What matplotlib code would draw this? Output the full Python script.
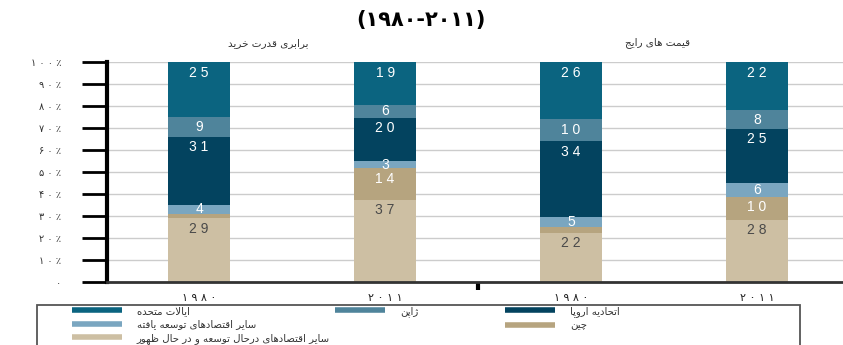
import matplotlib
matplotlib.use("Agg")
import matplotlib.pyplot as plt
from matplotlib.lines import Line2D
from matplotlib.patches import Rectangle

# bar values (% of world GDP), bottom to top: PPP 1980, PPP 2011, market 1980, market 2011
emerging = [29, 37.4, 22.4, 28.4]
china = [2, 14.4, 2.4, 10.4]
other_adv = [4, 3.2, 4.9, 6.2]
eu = [31, 19.6, 34.4, 24.6]
japan = [9, 6.0, 10.0, 8.4]
us = [25, 19.4, 25.9, 22.0]

year_labels = ["۱ ۹ ۸ ۰", "۲ ۰ ۱ ۱", "۱ ۹ ۸ ۰", "۲ ۰ ۱ ۱"]
ytick_labels = ["۰", "۱ ۰ ٪", "۲ ۰ ٪", "۳ ۰ ٪", "۴ ۰ ٪", "۵ ۰ ٪",
                "۶ ۰ ٪", "۷ ۰ ٪", "۸ ۰ ٪", "۹ ۰ ٪", "۱ ۰ ۰ ٪"]
series_names = ["سایر اقتصادهای درحال توسعه و در حال ظهور", "چین",
                "سایر اقتصادهای توسعه یافته", "اتحادیه اروپا", "ژاپن", "ایالات متحده"]
panel_titles = ["برابری قدرت خرید", "قیمت های رایج"]
period = "(۱۹۸۰-۲۰۱۱)"

colors = ["#cdbfa3", "#b6a47f", "#7aa6c0", "#03435f", "#4f849b", "#0b6480"]
text_colors = ["#4a4a4a", "white", "white", "white", "white", "white"]

# simple arabic shaping (matplotlib draws left to right, no joining)
FORMS = {
    "ا": ("\uFE8D", "\uFE8E", None, None),
    "ب": ("\uFE8F", "\uFE90", "\uFE91", "\uFE92"),
    "پ": ("\uFB56", "\uFB57", "\uFB58", "\uFB59"),
    "ت": ("\uFE95", "\uFE96", "\uFE97", "\uFE98"),
    "ج": ("\uFE9D", "\uFE9E", "\uFE9F", "\uFEA0"),
    "چ": ("\uFB7A", "\uFB7B", "\uFB7C", "\uFB7D"),
    "ح": ("\uFEA1", "\uFEA2", "\uFEA3", "\uFEA4"),
    "خ": ("\uFEA5", "\uFEA6", "\uFEA7", "\uFEA8"),
    "د": ("\uFEA9", "\uFEAA", None, None),
    "ر": ("\uFEAD", "\uFEAE", None, None),
    "ژ": ("\uFB8A", "\uFB8B", None, None),
    "س": ("\uFEB1", "\uFEB2", "\uFEB3", "\uFEB4"),
    "ص": ("\uFEB9", "\uFEBA", "\uFEBB", "\uFEBC"),
    "ظ": ("\uFEC5", "\uFEC6", "\uFEC7", "\uFEC8"),
    "ع": ("\uFEC9", "\uFECA", "\uFECB", "\uFECC"),
    "ف": ("\uFED1", "\uFED2", "\uFED3", "\uFED4"),
    "ق": ("\uFED5", "\uFED6", "\uFED7", "\uFED8"),
    "ل": ("\uFEDD", "\uFEDE", "\uFEDF", "\uFEE0"),
    "م": ("\uFEE1", "\uFEE2", "\uFEE3", "\uFEE4"),
    "ن": ("\uFEE5", "\uFEE6", "\uFEE7", "\uFEE8"),
    "ه": ("\uFEE9", "\uFEEA", "\uFEEB", "\uFEEC"),
    "و": ("\uFEED", "\uFEEE", None, None),
    "ی": ("\uFBFC", "\uFBFD", "\uFBFE", "\uFBFF"),
}


def shape(text):
    def joins_next(c):
        return c in FORMS and FORMS[c][2] is not None
    res = []
    i = 0
    while i < len(text):
        c = text[i]
        if c not in FORMS:
            res.append(c)
            i += 1
            continue
        prev_joins = i > 0 and joins_next(text[i - 1])
        if c == "ل" and i + 1 < len(text) and text[i + 1] == "ا":
            res.append("\uFEFC" if prev_joins else "\uFEFB")
            i += 2
            continue
        nxt = text[i + 1] if i + 1 < len(text) else ""
        next_joins = joins_next(c) and nxt in FORMS
        iso, fin, ini, med = FORMS[c]
        if prev_joins and next_joins:
            res.append(med)
        elif prev_joins:
            res.append(fin)
        elif next_joins:
            res.append(ini)
        else:
            res.append(iso)
        i += 1
    return "".join(reversed(res))


plt.rcParams["font.family"] = ["DejaVu Sans"]
W, H = 843, 345
fig = plt.figure(figsize=(W / 100, H / 100), dpi=100)
ax = fig.add_axes([107 / W, 63 / H, (W - 107) / W, 220 / H])

x = range(len(year_labels))
series = [emerging, china, other_adv, eu, japan, us]
bottom = [0] * len(year_labels)
for vals, col, tcol in zip(series, colors, text_colors):
    ax.bar(x, vals, width=0.335, bottom=bottom, color=col, zorder=2)
    for xi, v, b in zip(x, vals, bottom):
        if v >= 2.5:
            top = b + v
            ax.text(xi, top - min(4.8, v / 2), " ".join(str(round(v))),
                    ha="center", va="center", fontsize=10, color=tcol,
                    family="Liberation Sans", zorder=3)
    bottom = [b + v for b, v in zip(bottom, vals)]

ax.set_xlim(-0.495, 3.462)
ax.set_ylim(0, 100)
ax.set_yticks(range(0, 101, 10))
ax.set_yticklabels(ytick_labels, fontsize=7, color="#333333")
ax.set_xticks(list(x))
ax.set_xticklabels(year_labels, fontsize=8, color="#222222")
ax.set_xticks([1.5], minor=True)
ax.tick_params(axis="y", length=18, width=2, color="black", pad=15)
ax.tick_params(axis="x", which="major", length=0, pad=8)
ax.tick_params(axis="x", which="minor", length=6, width=3, color="black")
ax.yaxis.grid(True, color="#cccccc", lw=1)
ax.set_axisbelow(True)
for s in ["top", "right"]:
    ax.spines[s].set_visible(False)
ax.spines["left"].set_linewidth(3)
ax.spines["left"].set_color("black")
ax.spines["bottom"].set_linewidth(2)
ax.spines["bottom"].set_color("#333333")

# titles
fig.text(421 / W, 1 - 20 / H, period, ha="center", va="center",
         fontsize=15, fontweight="bold")
fig.text(268 / W, 1 - 43 / H, shape(panel_titles[0]), ha="center",
         va="center", fontsize=7.5, color="#333333")
fig.text(658 / W, 1 - 43 / H, shape(panel_titles[1]), ha="center",
         va="center", fontsize=7.5, color="#333333")

# legend box, cut by the bottom edge like the source
fig.add_artist(Rectangle((37 / W, -0.05), (800 - 37) / W, 0.05 + (H - 305) / H,
                         transform=fig.transFigure, fill=False,
                         edgecolor="#555555", lw=1.3))

handles = [Line2D([], [], color=c, lw=4, solid_capstyle="butt") for c in colors]
columns = [(72, [5, 2, 0]), (335, [4]), (505, [3, 1])]
for xpix, idx in columns:
    leg = fig.legend([handles[i] for i in idx], [shape(series_names[i]) for i in idx],
                     loc="upper left", bbox_to_anchor=(xpix / W, 1 - 306 / H),
                     frameon=False, fontsize=7.3, handlelength=4.9,
                     handletextpad=1.5, labelspacing=0.33, borderpad=0,
                     borderaxespad=0)
    for t in leg.get_texts():
        t.set_color("#333333")

fig.savefig("out.png", dpi=100)
